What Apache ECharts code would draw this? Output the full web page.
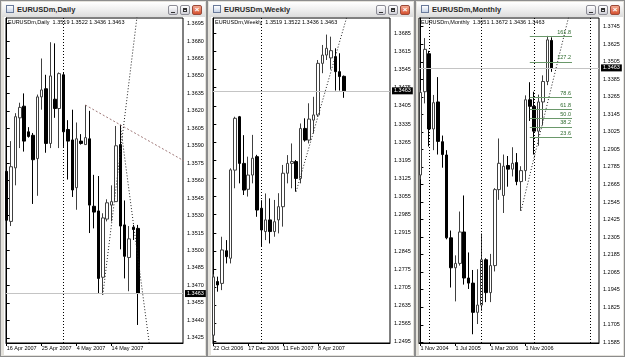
<!DOCTYPE html>
<html><head><meta charset="utf-8">
<script src="https://cdn.jsdelivr.net/npm/echarts@6/dist/echarts.min.js"></script>
<style>
html,body{margin:0;padding:0;}
body{width:625px;height:357px;background:#d4d0c8;position:relative;overflow:hidden;font-family:"Liberation Sans",Arial,sans-serif;}
.win{position:absolute;top:0;height:357px;box-sizing:border-box;background:#e4e2dc;border:1px solid #8c8c8c;}
.tb{position:absolute;left:1px;right:1px;top:1px;height:15px;background:linear-gradient(#ffffff,#efefef 50%,#dcdcdc);}
.ic{position:absolute;left:4px;top:3px;width:8px;height:8px;border:1px solid #6a7a9a;background:linear-gradient(#fff,#c8d4e8);box-sizing:border-box;}
.tt{position:absolute;left:15px;top:0;font:bold 7.5px "Liberation Sans",Arial,sans-serif;color:#2a2a2a;line-height:15px;white-space:nowrap;}
.client{position:absolute;left:3px;right:1px;top:16px;bottom:1px;background:#fff;}
.btn{position:absolute;top:3px;width:10px;height:10px;border:1px solid #8d8d96;border-radius:2px;background:linear-gradient(#ffffff,#d2d2da);box-sizing:border-box;}
.btn.cl{background:linear-gradient(#f4a890,#d5502f);border-color:#9a4a3a;}
.mn{position:absolute;left:2px;top:6px;width:4px;height:1px;background:#333;}
.mx{position:absolute;left:2px;top:2px;width:4px;height:4px;border:1px solid #333;border-top-width:2px;box-sizing:border-box;}
.xx{position:absolute;left:0;top:-1px;width:8px;text-align:center;font:bold 8px/10px "Liberation Sans",Arial,sans-serif;color:#fff;}
#chart{position:absolute;left:0;top:0;width:625px;height:357px;}
</style></head>
<body>
<div class="win" style="left:0;width:207px"><div class="tb"><div class="ic"></div><div class="tt">EURUSDm,Daily</div>
<div class="btn" style="right:27px"><i class="mn"></i></div><div class="btn" style="right:15px"><i class="mx"></i></div><div class="btn cl" style="right:3px"><i class="xx">×</i></div></div><div class="client"></div></div>
<div class="win" style="left:207px;width:208px"><div class="tb"><div class="ic"></div><div class="tt">EURUSDm,Weekly</div>
<div class="btn" style="right:27px"><i class="mn"></i></div><div class="btn" style="right:15px"><i class="mx"></i></div><div class="btn cl" style="right:3px"><i class="xx">×</i></div></div><div class="client"></div></div>
<div class="win" style="left:415px;width:210px"><div class="tb"><div class="ic"></div><div class="tt">EURUSDm,Monthly</div>
<div class="btn" style="right:27px"><i class="mn"></i></div><div class="btn" style="right:15px"><i class="mx"></i></div><div class="btn cl" style="right:3px"><i class="xx">×</i></div></div><div class="client"></div></div>
<div id="chart"></div>
<script>
const symbol = 'EURUSDm';
const labelIdx = [0, 8, 16, 24];

// ---------- Daily ----------
const dailyDates = ['16 Apr 2007','17 Apr 2007','18 Apr 2007','19 Apr 2007','20 Apr 2007','22 Apr 2007','23 Apr 2007','24 Apr 2007','25 Apr 2007','26 Apr 2007','27 Apr 2007','29 Apr 2007','30 Apr 2007','1 May 2007','2 May 2007','3 May 2007','4 May 2007','6 May 2007','7 May 2007','8 May 2007','9 May 2007','10 May 2007','11 May 2007','13 May 2007','14 May 2007','15 May 2007','16 May 2007','17 May 2007','18 May 2007','20 May 2007','21 May 2007'];
// [open, close, low, high]
const dailyCandles = [
[1.3568,1.3526,1.3520,1.3572],[1.3525,1.3572,1.3521,1.3594],[1.3571,1.3615,1.3556,1.3618],[1.3614,1.3623,1.3588,1.3627],
[1.3624,1.3594,1.3585,1.3635],[1.3602,1.3598,1.3597,1.3606],[1.3599,1.3578,1.3540,1.3601],[1.3579,1.3632,1.3547,1.3634],
[1.3632,1.3638,1.3621,1.3665],[1.3639,1.3592,1.3584,1.3651],[1.3592,1.3650,1.3588,1.3679],[1.3630,1.3622,1.3614,1.3678],
[1.3622,1.3652,1.3588,1.3653],[1.3651,1.3602,1.3589,1.3653],[1.3604,1.3594,1.3561,1.3612],[1.3595,1.3552,1.3546,1.3621],
[1.3554,1.3596,1.3535,1.3610],[1.3594,1.3592,1.3591,1.3600],[1.3591,1.3597,1.3591,1.3625],[1.3596,1.3539,1.3515,1.3620],
[1.3538,1.3533,1.3519,1.3565],[1.3534,1.3476,1.3463,1.3564],[1.3477,1.3528,1.3462,1.3532],[1.3527,1.3541,1.3525,1.3544],
[1.3539,1.3542,1.3525,1.3556],[1.3542,1.3590,1.3542,1.3607],[1.3591,1.3521,1.3501,1.3608],[1.3522,1.3495,1.3476,1.3543],
[1.3494,1.3510,1.3465,1.3521],[1.3520,1.3518,1.3509,1.3522],[1.3519,1.3463,1.3436,1.3522]];
const dailyTicks = [1.3425,1.3440,1.3455,1.3470,1.3485,1.3500,1.3515,1.3530,1.3545,1.3560,1.3575,1.3590,1.3605,1.3620,1.3635,1.3650,1.3665,1.3680,1.3695];
const dailyTrendUp = [[22,1.3462],[31,1.3737]];
const dailyTrendDown = [[26,1.3608],[34,1.3381]];
const dailyResistance = [[18,1.3625],[42,1.3574]];

// ---------- Weekly ----------
const weeklyDates = ['22 Oct 2006','29 Oct 2006','5 Nov 2006','12 Nov 2006','19 Nov 2006','26 Nov 2006','3 Dec 2006','10 Dec 2006','17 Dec 2006','24 Dec 2006','31 Dec 2006','7 Jan 2007','14 Jan 2007','21 Jan 2007','28 Jan 2007','4 Feb 2007','11 Feb 2007','18 Feb 2007','25 Feb 2007','4 Mar 2007','11 Mar 2007','18 Mar 2007','25 Mar 2007','1 Apr 2007','8 Apr 2007','15 Apr 2007','22 Apr 2007','29 Apr 2007','6 May 2007','13 May 2007','20 May 2007'];
const weeklyCandles = [
[1.2520,1.2745,1.2500,1.2755],[1.2727,1.2714,1.2688,1.2746],[1.2720,1.2849,1.2694,1.2900],[1.2846,1.2823,1.2797,1.2887],
[1.2817,1.3158,1.2797,1.3164],[1.3157,1.3357,1.3087,1.3363],[1.3363,1.3183,1.3106,1.3366],[1.3183,1.3080,1.3061,1.3292],
[1.3083,1.3138,1.3055,1.3209],[1.3138,1.3203,1.3106,1.3293],[1.3209,1.3003,1.2977,1.3216],[1.3010,1.2926,1.2862,1.3041],
[1.2920,1.2965,1.2887,1.3067],[1.2965,1.2920,1.2874,1.3048],[1.2920,1.2958,1.2900,1.3042],[1.2965,1.3016,1.2913,1.3068],
[1.3016,1.3145,1.2939,1.3177],[1.3145,1.3183,1.3106,1.3215],[1.3183,1.3190,1.3087,1.3260],[1.3190,1.3125,1.3074,1.3196],
[1.3125,1.3318,1.3106,1.3337],[1.3318,1.3273,1.3267,1.3357],[1.3273,1.3354,1.3260,1.3415],[1.3350,1.3370,1.3299,1.3440],
[1.3370,1.3569,1.3363,1.3582],[1.3569,1.3601,1.3531,1.3640],[1.3601,1.3627,1.3582,1.3680],[1.3590,1.3618,1.3545,1.3672],
[1.3595,1.3537,1.3464,1.3627],[1.3537,1.3518,1.3464,1.3608],[1.3519,1.3463,1.3436,1.3522]];
const weeklyTicks = [1.2495,1.2565,1.2635,1.2705,1.2775,1.2845,1.2915,1.2985,1.3055,1.3125,1.3195,1.3265,1.3335,1.3405,1.3475,1.3545,1.3615,1.3685];
const weeklyTrend = [[19,1.3074],[32,1.3828]];

// ---------- Monthly ----------
const monthlyDates = ['1 Nov 2004','1 Dec 2004','1 Jan 2005','1 Feb 2005','1 Mar 2005','1 Apr 2005','1 May 2005','1 Jun 2005','1 Jul 2005','1 Aug 2005','1 Sep 2005','1 Oct 2005','1 Nov 2005','1 Dec 2005','1 Jan 2006','1 Feb 2006','1 Mar 2006','1 Apr 2006','1 May 2006','1 Jun 2006','1 Jul 2006','1 Aug 2006','1 Sep 2006','1 Oct 2006','1 Nov 2006','1 Dec 2006','1 Jan 2007','1 Feb 2007','1 Mar 2007','1 Apr 2007','1 May 2007'];
const monthlyCandles = [
[1.2730,1.3295,1.2700,1.3310],[1.3300,1.3590,1.3220,1.3667],[1.3560,1.3045,1.2925,1.3580],[1.3045,1.3225,1.2900,1.3278],
[1.3230,1.2960,1.2870,1.3400],[1.2958,1.2870,1.2780,1.3000],[1.2867,1.2300,1.2290,1.2900],[1.2300,1.2095,1.1960,1.2350],
[1.2095,1.2125,1.1865,1.2180],[1.2125,1.2340,1.2110,1.2480],[1.2340,1.2025,1.1980,1.2590],[1.2025,1.1990,1.1950,1.2200],
[1.1990,1.1790,1.1640,1.2080],[1.1790,1.1840,1.1710,1.2085],[1.1840,1.2150,1.1800,1.2330],[1.2150,1.1925,1.1860,1.2160],
[1.1925,1.2110,1.1860,1.2190],[1.2110,1.2630,1.2070,1.2640],[1.2630,1.2810,1.2560,1.2980],[1.2590,1.2790,1.2470,1.2870],
[1.2795,1.2770,1.2650,1.2860],[1.2770,1.2810,1.2720,1.2920],[1.2815,1.2685,1.2660,1.2880],[1.2685,1.2760,1.2485,1.2790],
[1.2760,1.3245,1.2690,1.3275],[1.3245,1.3200,1.3100,1.3365],[1.3200,1.3030,1.2870,1.3300],[1.3030,1.3230,1.2930,1.3280],
[1.3230,1.3370,1.3070,1.3412],[1.3370,1.3655,1.3345,1.3682],[1.3651,1.3463,1.3436,1.3672]];
const monthlyTicks = [1.1585,1.1705,1.1825,1.1945,1.2065,1.2185,1.2305,1.2425,1.2545,1.2665,1.2785,1.2905,1.3025,1.3145,1.3265,1.3385,1.3505,1.3625,1.3745];
const monthlyTrend = [[23,1.2485],[34,1.3826]];
const monthlyExtraVLine = [38.8];
const fibLabels = ['23.6','38.2','50.0','61.8','78.6','127.2','161.8'];
const fibPrices = [1.2990,1.3060,1.3120,1.3179,1.3261,1.3504,1.3680];
const fibSpan = [25, 34.65];

// ---------- layout (pixels / axis ranges only) ----------
const FONT = '"Liberation Sans", Arial, sans-serif';
const panels = [
  {tf:'Daily', dates:dailyDates, candles:dailyCandles, ticks:dailyTicks, sepKey:1, extraV:[],
   grid:{left:6, top:18, width:177, height:325}, x:[-0.16, 40.34], y:[1.34205, 1.36998]},
  {tf:'Weekly', dates:weeklyDates, candles:weeklyCandles, ticks:weeklyTicks, sepKey:2, extraV:[],
   grid:{left:213, top:18, width:177, height:325}, x:[-0.07, 40.53], y:[1.2490, 1.3744]},
  {tf:'Monthly', dates:monthlyDates, candles:monthlyCandles, ticks:monthlyTicks, sepKey:2, extraV:monthlyExtraVLine,
   grid:{left:419, top:18, width:180, height:325}, x:[-0.32, 40.82], y:[1.15802, 1.38045]}
];

function separators(dates, keyPart) {
  const out = [];
  for (let k = 1; k < dates.length; k++) {
    if (dates[k].split(' ')[keyPart] !== dates[k-1].split(' ')[keyPart]) out.push(k);
  }
  return out;
}
const f4 = v => v.toFixed(4);

const option = {
  animation: false,
  backgroundColor: 'transparent',
  title: [], grid: [], xAxis: [], yAxis: [], series: []
};

panels.forEach((p, i) => {
  const last = p.candles[p.candles.length - 1];
  option.title.push({
    text: symbol + ',' + p.tf + '  ' + [last[0], last[3], last[2], last[1]].map(f4).join(' '),
    left: p.grid.left + 2, top: p.grid.top + 1, padding: 0,
    textStyle: {fontSize: 5.5, fontWeight: 'normal', color: '#000', fontFamily: FONT}
  });
  option.grid.push(Object.assign({show: true, borderColor: '#000', borderWidth: 1, backgroundColor: 'transparent', containLabel: false}, p.grid));
  option.xAxis.push({
    type: 'value', gridIndex: i, min: p.x[0], max: p.x[1],
    splitLine: {show: false},
    axisLine: {show: true, onZero: false, lineStyle: {color: '#000', width: 1}},
    axisTick: {show: true, customValues: labelIdx, length: 3, lineStyle: {color: '#000'}},
    axisLabel: {customValues: labelIdx, formatter: v => p.dates[Math.round(v)] || '', align: 'left',
      fontSize: 5.5, color: '#000', margin: 2, fontFamily: FONT}
  });
  option.yAxis.push({
    type: 'value', gridIndex: i, position: 'right', min: p.y[0], max: p.y[1],
    splitLine: {show: false},
    axisLine: {show: true, lineStyle: {color: '#000', width: 1}},
    axisTick: {show: true, customValues: p.ticks, length: 3, lineStyle: {color: '#000'}},
    axisLabel: {customValues: p.ticks, formatter: f4, fontSize: 5.5, color: '#000', margin: 4, fontFamily: FONT}
  });
  const seps = separators(p.dates, p.sepKey).concat(p.extraV);
  option.series.push({
    type: 'candlestick', xAxisIndex: i, yAxisIndex: i, barWidth: 3, clip: true, silent: true,
    data: p.candles.map((c, k) => [k, c[0], c[1], c[2], c[3]]),
    encode: {x: 0, y: [1, 2, 3, 4]},
    itemStyle: {color: '#ffffff', color0: '#000000', borderColor: '#404040', borderColor0: '#000000', borderWidth: 1},
    markLine: {
      silent: true, symbol: 'none', animation: false, precision: 5,
      data: seps.map(s => ({xAxis: s, lineStyle: {type: [1, 2], color: '#000', width: 1}, label: {show: false}}))
        .concat([{yAxis: last[1], lineStyle: {type: 'solid', color: '#c4c4c4', width: 1},
          label: {show: true, position: 'end', formatter: f4(last[1]), backgroundColor: '#000', color: '#fff',
            fontSize: 5.5, padding: [1, 2, 0, 2], distance: 2, fontFamily: FONT}}])
    }
  });
});

function trend(i, pts, color, dash) {
  return {type: 'line', xAxisIndex: i, yAxisIndex: i, data: pts, symbol: 'none', clip: true, silent: true,
    lineStyle: {type: dash, color: color, width: 1}, z: 3};
}
option.series.push(trend(0, dailyTrendUp, '#202020', [1, 2]));
option.series.push(trend(0, dailyTrendDown, '#202020', [1, 2]));
option.series.push(trend(0, dailyResistance, '#a07a7a', [2, 2]));
option.series.push(trend(1, weeklyTrend, '#202020', [1, 2]));
const mTrend = trend(2, monthlyTrend, '#202020', [1, 2]);
mTrend.markLine = {
  silent: true, symbol: 'none', animation: false, precision: 5,
  data: fibLabels.map((lab, k) => [
    {coord: [fibSpan[0], fibPrices[k]], lineStyle: {color: '#6a986a', width: 1, type: 'solid'},
     label: {show: true, position: 'insideEndTop', formatter: lab, color: '#2e6a2e', fontSize: 5.5, distance: 1, fontFamily: FONT}},
    {coord: [fibSpan[1], fibPrices[k]]}
  ])
};
option.series.push(mTrend);

const chart = echarts.init(document.getElementById('chart'), null, {renderer: 'canvas'});
chart.setOption(option);
</script>
</body></html>
